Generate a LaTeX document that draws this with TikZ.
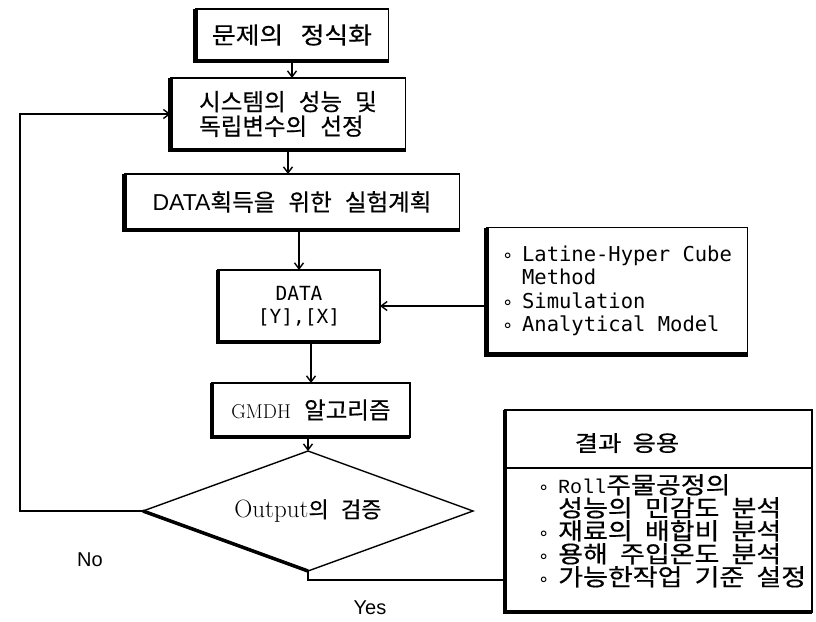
\documentclass[tikz,border=0pt]{standalone}
\usepackage{fontspec}
\usetikzlibrary{shapes.geometric,arrows.meta}
\newfontfamily\kr{Noto Sans CJK KR}[WordSpace=2.5,FakeBold=0.5]
\newfontfamily\krs{Noto Sans CJK KR}[FakeStretch=1.1,WordSpace=3,FakeBold=0.5]
\newfontfamily\krw{Noto Sans CJK KR}[FakeStretch=1.15,WordSpace=2,FakeBold=0.5]
\newfontfamily\dmono{DejaVu Sans Mono}
\newfontfamily\lmono{Liberation Mono}
\newfontfamily\lsans{Liberation Sans}
\newfontfamily\dvs{DejaVu Sans}
\newcommand\bul{\makebox[20pt][l]{\dvs\fontsize{18}{18}\selectfont ∘}}
\begin{document}
\begin{tikzpicture}[x=1pt,y=-1pt,
  box/.style={draw, line width=1.8pt, outer sep=0pt, inner sep=4pt},
  heavy/.style={line width=4.2pt},
  conn/.style={line width=1.4pt, -{Straight Barb[length=6pt,width=9pt]}},
  plain/.style={line width=1.4pt},
  krf/.style={font=\kr\fontsize{23.5}{24.5}\selectfont}]
\useasboundingbox (0,0) rectangle (816,621);

\node[box, font=\krs\fontsize{23.5}{24.5}\selectfont, minimum width=193pt, minimum height=52pt] (b1) at (292,35) {문제의 정식화};
\node[box, krf, minimum width=235pt, minimum height=72pt, align=left] (b2) at (288,114) {시스템의 성능 및\\독립변수의 선정};
\node[box, krf, minimum width=335pt, minimum height=56pt] (b3) at (292,202) {{\lsans\fontsize{23}{24}\selectfont DATA}획득을 위한 실험계획};
\node[box, font=\dmono\fontsize{19.5}{23}\selectfont, align=center, minimum width=162pt, minimum height=72pt] (data) at (299,306) {DATA\\{[Y],[X]}};
\node[box, font=\dmono\fontsize{20.5}{23.5}\selectfont, align=left, minimum width=261pt, minimum height=127pt] (lhc) at (617,291)
  {\bul Latine-Hyper Cube\\\hspace*{20pt}Method\\\bul Simulation\\\bul Analytical Model};
\node[box, krf, minimum width=198pt, minimum height=54pt] (gmdh) at (311,410) {{\rmfamily\fontsize{20}{22}\selectfont GMDH} 알고리즘};
\node[draw, diamond, aspect=2.75, line width=1.4pt, outer sep=0pt, inner sep=0pt, minimum width=330pt, minimum height=120pt,
  font=\kr\fontsize{22}{24}\selectfont] (dia) at (308,511) {{\rmfamily\fontsize{25}{26}\selectfont Output}의 검증};
\node[box, minimum width=307pt, minimum height=202pt] (res) at (658.5,511) {};
\draw[line width=1.8pt] (res.west |- 0,468) -- (res.east |- 0,468);
\node[font=\krw\fontsize{22}{24}\selectfont] (restitle) at (627,443) {결과 응용};
\node[font=\krw\fontsize{23.5}{23}\selectfont, align=left, anchor=north west, inner sep=0pt] (resitems) at (538,474)
  {\bul{\lmono\fontsize{20}{20}\selectfont Roll}주물공정의\\\hspace*{20pt}성능의 민감도 분석\\\bul 재료의 배합비 분석\\\bul 용해 주입온도 분석\\\bul 가능한작업 기준 설정};

\foreach \n in {b1,b2,b3,data,lhc,gmdh,res}
  \draw[heavy] (\n.north west) -- (\n.south west) -- (\n.south east);
\draw[line width=3.5pt] (dia.west) -- (dia.south);

\node[font=\lsans\fontsize{20}{24}\selectfont] (no) at (90,560) {No};
\node[font=\lsans\fontsize{20}{24}\selectfont] (yes) at (370,608) {Yes};

\coordinate (nt) at (20,114);
\coordinate (yc) at (308,580);
\draw[conn] (b1.south) -- (b1.south |- b2.north);
\draw[conn] (b2.south) -- (b2.south |- b3.north);
\draw[conn] (b3.south -| data.north) -- (data.north);
\draw[conn] (lhc.west |- data.east) -- (data.east);
\draw[conn] (gmdh.north |- data.south) -- (gmdh.north);
\draw[conn] (gmdh.south -| dia.north) -- (dia.north);
\draw[conn] (dia.west) -| (nt) -- (b2.west);
\draw[plain] (dia.south) -- (yc) -- (yc -| res.west);
\end{tikzpicture}
\end{document}
